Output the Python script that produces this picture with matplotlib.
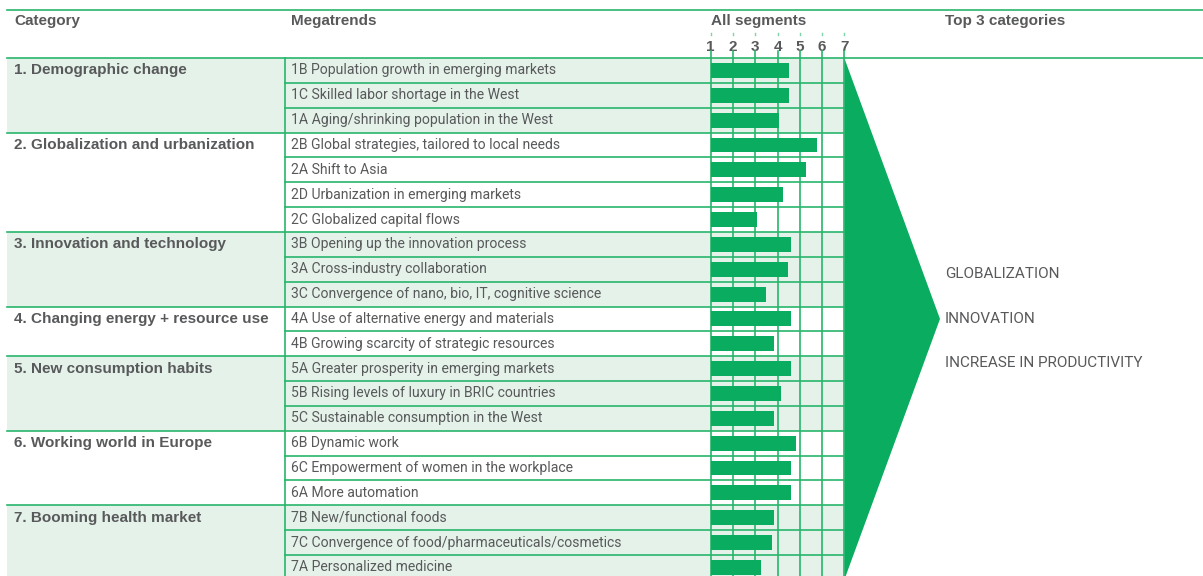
import matplotlib.pyplot as plt
from matplotlib.patches import Polygon, Rectangle

# Data
categories = ['1. Demographic change', '2. Globalization and urbanization',
              '3. Innovation and technology', '4. Changing energy + resource use',
              '5. New consumption habits', '6. Working world in Europe',
              '7. Booming health market']
cat_sizes = [3, 4, 3, 2, 3, 3, 3]
megatrends = ['1B Population growth in emerging markets',
              '1C Skilled labor shortage in the West',
              '1A Aging/shrinking population in the West',
              '2B Global strategies, tailored to local needs',
              '2A Shift to Asia',
              '2D Urbanization in emerging markets',
              '2C Globalized capital flows',
              '3B Opening up the innovation process',
              '3A Cross-industry collaboration',
              '3C Convergence of nano, bio, IT, cognitive science',
              '4A Use of alternative energy and materials',
              '4B Growing scarcity of strategic resources',
              '5A Greater prosperity in emerging markets',
              '5B Rising levels of luxury in BRIC countries',
              '5C Sustainable consumption in the West',
              '6B Dynamic work',
              '6C Empowerment of women in the workplace',
              '6A More automation',
              '7B New/functional foods',
              '7C Convergence of food/pharmaceuticals/cosmetics',
              '7A Personalized medicine']
scores = [4.52, 4.52, 4.05, 5.76, 5.27, 4.23, 3.08, 4.61, 4.47, 3.48, 4.61,
          3.84, 4.61, 4.16, 3.84, 4.83, 4.61, 4.61, 3.83, 3.75, 3.26]
ticks = [1, 2, 3, 4, 5, 6, 7]
top3 = ['GLOBALIZATION', 'INNOVATION', 'INCREASE IN PRODUCTIVITY']

# Colours
green = '#0aac5f'
line_green = '#27b56c'
light_fill = '#e5f2e9'
grey = '#58595b'

plt.rcParams['font.family'] = ['Roboto', 'DejaVu Sans']
bold_font = ['Liberation Sans', 'DejaVu Sans']

W, H = 1203, 576
fig = plt.figure(figsize=(W / 100, H / 100), dpi=100)
ax = fig.add_axes([0, 0, 1, 1])
ax.set_xlim(0, W)
ax.set_ylim(H, 0)
ax.axis('off')

# Layout in pixels
left = 7
col_mega = 285
grid_l, grid_r = 710.7, 844.3
top_line, head_line = 10, 58
rh = 24.85
n = len(megatrends)
rows_bottom = head_line + n * rh

# Header
ax.plot([left, W], [top_line, top_line], color=line_green, lw=1.2)
ax.plot([left, W], [head_line, head_line], color=line_green, lw=1.2)
hdr = dict(fontsize=11, fontweight='bold', color=grey, va='center',
           family=bold_font)
ax.text(14, 21, 'Category', **hdr)
ax.text(291, 21, 'Megatrends', **hdr)
ax.text(grid_l, 21, 'All segments', **hdr)
ax.text(945, 21, 'Top 3 categories', **hdr)

# Category blocks, backgrounds and lines
start = 0
for k, (cat, size) in enumerate(zip(categories, cat_sizes)):
    y0 = head_line + start * rh
    if k % 2 == 0:
        ax.add_patch(Rectangle((left, y0), grid_r - left, size * rh,
                               color=light_fill, lw=0, zorder=0))
    if k > 0:
        ax.plot([left, grid_r], [y0, y0], color=line_green, lw=1.2, zorder=2)
    ax.text(14, y0 + rh / 2, cat, **hdr)
    for j in range(1, size):
        yj = y0 + j * rh
        ax.plot([col_mega, grid_r], [yj, yj], color=line_green, lw=1.2, zorder=2)
    start += size

ax.plot([col_mega, col_mega], [head_line, H], color=line_green, lw=1.2)
for i, m in enumerate(megatrends):
    ax.text(291, head_line + (i + 0.5) * rh, m, fontsize=10.1, color=grey,
            va='center')

# Triangle pointing to the top 3
apex_y = (head_line + rows_bottom) / 2
ax.add_patch(Polygon([(grid_r, head_line), (940, apex_y), (grid_r, rows_bottom)],
                     closed=True, color=green, lw=0, zorder=3))
for i, t in enumerate(top3):
    ax.text(945, apex_y + (i - 1) * 44.5, t, fontsize=11, color=grey,
            va='center')

# Bar axes on the grid
axb = fig.add_axes([grid_l / W, 1 - rows_bottom / H,
                    (grid_r - grid_l) / W, (rows_bottom - head_line) / H])
axb.patch.set_alpha(0)
axb.set_xlim(1, 7)
axb.set_ylim(n - 0.5, -0.5)
axb.barh(range(n), scores, height=0.6, color=green, zorder=3)
span = rows_bottom - head_line
for t in ticks:
    axb.axvline(t, ymin=0, ymax=1 + (head_line - 51) / span, color=line_green,
                lw=1.2, clip_on=False, zorder=2)
    axb.plot([t, t], [1 + 23 / span, 1 + 25 / span],
             transform=axb.get_xaxis_transform(), color='#7fd3a8', lw=1,
             clip_on=False)
axb.xaxis.tick_top()
axb.set_xticks(ticks)
axb.set_xticklabels([str(t) for t in ticks], fontsize=11, fontweight='bold',
                    color=grey, family=bold_font)
axb.tick_params(axis='x', length=0, pad=3)
axb.set_yticks([])
for s in axb.spines.values():
    s.set_visible(False)

fig.savefig('out.png', dpi=100)
